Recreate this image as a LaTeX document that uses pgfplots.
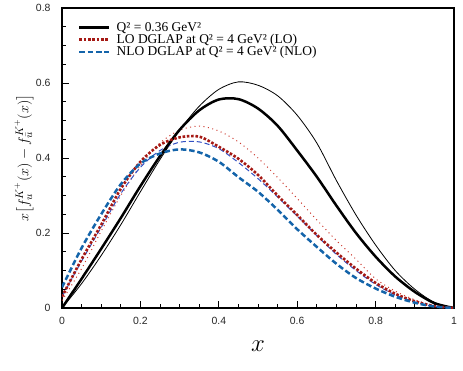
\documentclass[border=0pt]{standalone}
\usepackage{fontspec}
\setmainfont{Liberation Serif}
\newfontfamily\ticksans{Liberation Sans}
\usepackage{amsmath}
\usepackage{pgfplots}
\usepackage{pgfplotstable}
\pgfplotsset{compat=1.18}

\definecolor{lored}{RGB}{165,25,20}
\definecolor{thinred}{RGB}{205,60,50}
\definecolor{nloblue}{RGB}{20,100,170}
\definecolor{thinblue}{RGB}{50,80,195}

% T/t: Q^2=0.36 thick/thin, R/r: LO thick/thin, B/b: NLO thick/thin
\pgfplotstableread{
x     T      t      R      r      B      b
0     0      0      0.03   0.02   0.055  0.03
0.05  0.078  0.065  0.13   0.105  0.16   0.125
0.1   0.158  0.14   0.222  0.205  0.25   0.215
0.15  0.24   0.222  0.318  0.30   0.33   0.305
0.2   0.325  0.31   0.39   0.38   0.385  0.375
0.25  0.405  0.396  0.435  0.44   0.412  0.42
0.3   0.475  0.474  0.455  0.474  0.423  0.442
0.35  0.527  0.538  0.457  0.485  0.415  0.443
0.4   0.556  0.583  0.43   0.472  0.39   0.425
0.45  0.557  0.603  0.398  0.443  0.349  0.388
0.5   0.532  0.594  0.355  0.40   0.31   0.345
0.55  0.486  0.566  0.30   0.348  0.262  0.296
0.6   0.42   0.514  0.248  0.292  0.21   0.245
0.65  0.35   0.44   0.195  0.235  0.163  0.193
0.7   0.273  0.34   0.148  0.18   0.118  0.143
0.75  0.2    0.248  0.105  0.13   0.08   0.10
0.8   0.137  0.168  0.067  0.078  0.052  0.063
0.85  0.084  0.1    0.038  0.045  0.03   0.035
0.9   0.043  0.05   0.018  0.022  0.014  0.016
0.95  0.013  0.015  0.005  0.006  0.004  0.004
1     0      0      0      0      0      0
}\curves

\begin{document}
\begin{tikzpicture}
\useasboundingbox (-62bp,-63bp) rectangle (401bp,308bp);
\begin{axis}[
scale only axis,
width=392bp, height=300bp,
xmin=0, xmax=1, ymin=0, ymax=0.8,
xtick={0,0.2,0.4,0.6,0.8,1},
ytick={0,0.2,0.4,0.6,0.8},
minor x tick num=3, minor y tick num=3,
tick align=inside,
xtick pos=bottom, ytick pos=left,
major tick length=7bp, minor tick length=4bp,
axis line style={line width=1.2bp},
every tick/.style={black, line width=0.9bp},
/pgf/number format/assume math mode=true,
ticklabel style={font=\ticksans\fontsize{10.5}{12}\selectfont, text=black!85},
xticklabel style={yshift=-6bp},
yticklabel style={xshift=-8bp},
xlabel={\fontsize{26}{28}\selectfont $x$},
ylabel={\fontsize{15.5}{17}\selectfont $x\bigl[f_u^{K^+}(x)-f_{\bar u}^{K^+}(x)\bigr]$},
every axis x label/.style={at={(axis description cs:0.5,-0.127)}, anchor=center},
every axis y label/.style={at={(axis description cs:-0.097,0.5)}, anchor=center, rotate=90},
legend cell align=left,
legend image code/.code={\draw[#1] (0bp,0bp) -- (30bp,0bp);},
legend style={draw=none, fill=none, at={(rel axis cs:0.033,0.962)}, anchor=north west,
  font=\fontsize{13.5}{13.5}\selectfont, row sep=0pt, column sep=6bp,
  nodes={inner sep=0pt, text height=9.5bp, text depth=2.6bp}},
]

% thin companion curves (not in legend)
\addplot[forget plot, black, line width=0.8bp, smooth] table[x=x, y=t] {\curves};
\addplot[forget plot, thinred, line width=1bp, dash pattern=on 1bp off 3.5bp, smooth] table[x=x, y=r] {\curves};
\addplot[forget plot, thinblue, line width=1bp, dash pattern=on 5bp off 3bp, smooth] table[x=x, y=b] {\curves};

% thick curves
\addplot[black, line width=2.5bp, smooth] table[x=x, y=T] {\curves};
\addlegendentry{Q² = 0.36 GeV²}
\addplot[lored, line width=2.6bp, dash pattern=on 2.6bp off 1.7bp, smooth] table[x=x, y=R] {\curves};
\addlegendentry{LO DGLAP at Q² = 4 GeV² (LO)}
\addplot[nloblue, line width=2.5bp, dash pattern=on 5.5bp off 2.8bp, smooth] table[x=x, y=B] {\curves};
\addlegendentry{NLO DGLAP at Q² = 4 GeV² (NLO)}

\end{axis}
\end{tikzpicture}
\end{document}
